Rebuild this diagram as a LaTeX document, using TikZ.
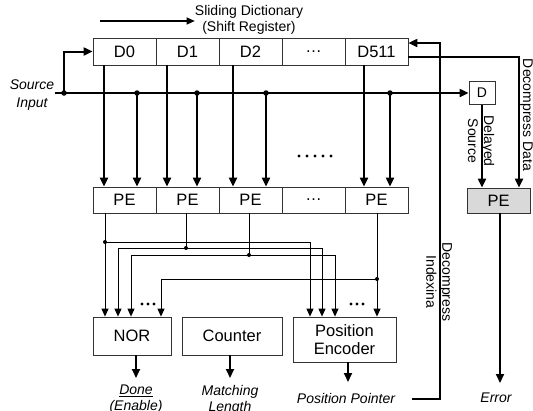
\documentclass[tikz,border=0pt]{standalone}
\usepackage{fontspec}
\setmainfont{Liberation Sans}
\usetikzlibrary{arrows.meta,calc}
\begin{document}
\begin{tikzpicture}[x=1pt,y=-1pt,
  cell/.style={draw=black!80, line width=0.8pt, minimum width=63pt, minimum height=27pt, inner sep=0pt, font=\fontsize{16.5}{19}\selectfont},
  box/.style={draw=black!80, line width=0.8pt, inner sep=0pt, align=center, font=\fontsize{16.5}{18}\selectfont},
  lab/.style={font=\fontsize{14}{16}\selectfont\itshape, align=center, inner sep=0pt},
  txt/.style={font=\fontsize{14}{16}\selectfont, align=center, inner sep=0pt},
  thk/.style={line width=2pt, -{Triangle[length=9pt,width=8pt]}},
  thn/.style={line width=0.9pt},
  thna/.style={line width=0.9pt, -{Triangle[length=8pt,width=7pt]}},
  bigdot/.style={circle, fill, inner sep=0pt, minimum size=5.5pt},
  jdot/.style={circle, fill, inner sep=0pt, minimum size=4pt},
  sdot/.style={circle, fill, inner sep=0pt, minimum size=3.2pt}
]
\useasboundingbox (0,0) rectangle (533,410);

% title
\node[txt] (title) at (249,20) {Sliding Dictionary\\(Shift Register)};
\coordinate (ta) at (100,21);
\draw[line width=1.1pt, -{Triangle[length=8pt,width=7pt]}] (ta) -- (title.west |- ta);

% register
\node[cell] (D0) at (124.5,51.5) {D0};
\node[cell] (D1) at (187.5,51.5) {D1};
\node[cell] (D2) at (250.5,51.5) {D2};
\node[cell] (Dd) at (313.5,51.5) {…};
\node[cell] (D511) at (376.5,51.5) {D511};

% PE row
\node[cell, minimum height=26pt] (P1) at (124.5,200) {PE};
\node[cell, minimum height=26pt] (P2) at (187.5,200) {PE};
\node[cell, minimum height=26pt] (P3) at (250.5,200) {PE};
\node[cell, minimum height=26pt] (P4) at (313.5,200) {…};
\node[cell, minimum height=26pt] (P5) at (376.5,200) {PE};

% bottom boxes
\node[box, minimum width=78pt, minimum height=38pt] (NOR) at (132,336) {NOR};
\node[box, minimum width=100pt, minimum height=38pt] (CNT) at (232,336) {Counter};
\node[box, minimum width=103pt, minimum height=45pt] (PEnc) at (344.5,339.5) {Position\\Encoder};

% delay and checker
\node[box, minimum width=26pt, minimum height=23pt, font=\fontsize{14}{16}\selectfont] (Dl) at (482,93) {D};
\node[box, fill=black!15, minimum width=63pt, minimum height=25pt] (PEg) at (498.5,200.5) {PE};

% source input
\node[lab, font=\fontsize{14}{18}\selectfont\itshape] (srcl) at (32,95) {Source\\Input};
\coordinate (src) at (55,93);
\node[bigdot] (sj) at (64,93) {};
\draw[thk] (src) -- (Dl.west);
\draw[thk] (sj.center) |- (D0.west);

% register outputs to PEs
\coordinate (k1) at (104,0);
\coordinate (k2) at (167,0);
\coordinate (k3) at (233,0);
\coordinate (k5) at (364,0);
\draw[thk] (D0.south -| k1) -- (P1.north -| k1);
\draw[thk] (D1.south -| k2) -- (P2.north -| k2);
\draw[thk] (D2.south -| k3) -- (P3.north -| k3);
\draw[thk] (D511.south -| k5) -- (P5.north -| k5);

% source taps
\node[bigdot] (t1) at (137,93) {};
\node[bigdot] (t2) at (197,93) {};
\node[bigdot] (t3) at (266,93) {};
\node[bigdot] (t5) at (390,93) {};
\draw[thk] (t1.center) -- (P1.north -| t1);
\draw[thk] (t2.center) -- (P2.north -| t2);
\draw[thk] (t3.center) -- (P3.north -| t3);
\draw[thk] (t5.center) -- (P5.north -| t5);

% five dots
\foreach \x/\n in {299/a,307/b,315/c,323/d,331/e}
  \node[sdot] (fd\n) at (\x,156) {};

% PE outputs wiring
\node[jdot] (j1) at (105,242) {};
\coordinate (e1) at (310,242);
\draw[thna] (P1.south -| j1) -- (NOR.north -| j1);
\draw[thna] (j1.center) -- (e1) -- (PEnc.north -| e1);

\node[jdot] (j2) at (186,248) {};
\coordinate (n2) at (118,248);
\coordinate (e2) at (322,248);
\draw[thn] (P2.south -| j2) -- (j2.center);
\draw[thna] (j2.center) -- (n2) -- (NOR.north -| n2);
\draw[thna] (j2.center) -- (e2) -- (PEnc.north -| e2);

\node[jdot] (j3) at (249,255) {};
\coordinate (n3) at (131,255);
\coordinate (e3) at (335,255);
\draw[thn] (P3.south -| j3) -- (j3.center);
\draw[thna] (j3.center) -- (n3) -- (NOR.north -| n3);
\draw[thna] (j3.center) -- (e3) -- (PEnc.north -| e3);

\node[jdot] (j4) at (377,279) {};
\coordinate (n4) at (161,279);
\draw[thna] (P5.south -| j4) -- (PEnc.north -| j4);
\draw[thna] (j4.center) -- (n4) -- (NOR.north -| n4);

% small ellipsis dots
\foreach \x/\n in {142/a,148/b,154/c}
  \node[sdot] (ld\n) at (\x,304) {};
\foreach \x/\n in {351/a,357/b,363/c}
  \node[sdot] (rd\n) at (\x,304) {};

% outputs
\node[lab, anchor=north] (done) at (136,385) {\underline{Done}\\(Enable)};
\node[lab, anchor=north] (mlen) at (230,385) {Matching\\Length};
\node[lab, anchor=north] (ppt) at (346,393) {Position Pointer};
\node[lab, anchor=north] (err) at (496,393) {Error};
\coordinate (a1) at (136,378);
\coordinate (a2) at (230,378);
\coordinate (a3) at (348,382);
\coordinate (a4) at (500,383);
\draw[thk] (NOR.south -| a1) -- (a1);
\draw[thk] (CNT.south -| a2) -- (a2);
\draw[thk] (PEnc.south -| a3) -- (a3);
\draw[thk] (PEg.south -| a4) -- (a4);

% decompress indexing feedback
\coordinate (pp) at (412,399);
\coordinate (ci) at (440,43);
\draw[thk] (pp) -| (ci) -- (ci -| D511.east);
\node[txt, rotate=-90] (dilab) at (439,282) {Decompress\\Indexina};

% decompress data
\coordinate (dd) at (519,57);
\draw[thk] (D511.east |- dd) -- (dd) -- (PEg.north -| dd);
\node[txt, rotate=-90] (ddlab) at (526.5,115) {Decompress Data};

% delayed source
\draw[thk] (Dl.south) -- (PEg.north -| Dl.south);
\node[txt, rotate=-90] (dslab) at (481,141) {Delayed\\Source};
\end{tikzpicture}
\end{document}
